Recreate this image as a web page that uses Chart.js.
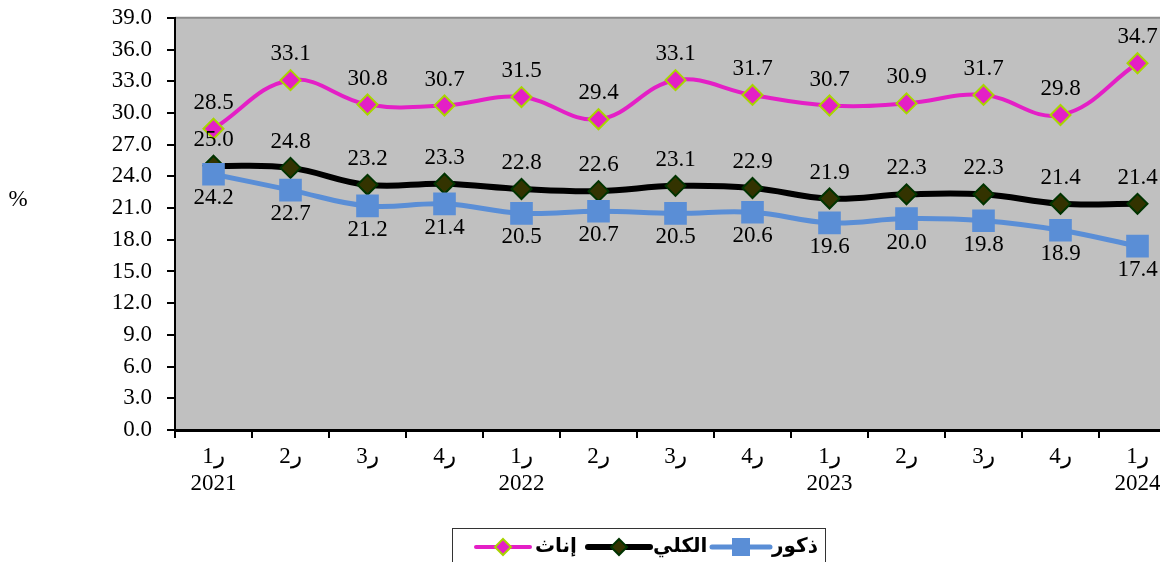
<!DOCTYPE html>
<html>
<head>
<meta charset="utf-8">
<script src="https://cdn.jsdelivr.net/npm/chart.js@4"></script>
<style>
  html, body { margin: 0; padding: 0; background: #fff; overflow: hidden; }
  #wrap { width: 1200px; height: 573px; position: relative; margin-top: -11px; }
</style>
</head>
<body>
<div id="wrap"><canvas id="rateChart"></canvas></div>
<script>
// quarters (ر = ربع) and the year under the first quarter of each year
const quarterLabels = ["1ر", "2ر", "3ر", "4ر", "1ر", "2ر", "3ر", "4ر", "1ر", "2ر", "3ر", "4ر", "1ر"];
const yearLabels = ["2021", "", "", "", "2022", "", "", "", "2023", "", "", "", "2024"];

const females = [28.5, 33.1, 30.8, 30.7, 31.5, 29.4, 33.1, 31.7, 30.7, 30.9, 31.7, 29.8, 34.7];
const total = [25.0, 24.8, 23.2, 23.3, 22.8, 22.6, 23.1, 22.9, 21.9, 22.3, 22.3, 21.4, 21.4];
const males = [24.2, 22.7, 21.2, 21.4, 20.5, 20.7, 20.5, 20.6, 19.6, 20.0, 19.8, 18.9, 17.4];

const yTicks = { min: 0, max: 39, step: 3 };

const serif = "'Liberation Serif', 'Times New Roman', serif";
const shiftY = 11; // canvas is pulled up by this much

// gray plot background + top border line
const plotBg = {
    id: "plotBg",
    beforeDraw(chart) {
        const { ctx, chartArea: a } = chart;
        ctx.save();
        ctx.fillStyle = "#c0c0c0";
        ctx.fillRect(a.left, a.top, a.right - a.left, a.bottom - a.top);
        ctx.strokeStyle = "#8c8c8c";
        ctx.lineWidth = 2;
        ctx.beginPath();
        ctx.moveTo(a.left, a.top);
        ctx.lineTo(a.right, a.top);
        ctx.stroke();
        ctx.restore();
    }
};

// value labels: above for females and total, below for males
const valueLabels = {
    id: "valueLabels",
    afterDatasetsDraw(chart) {
        const ctx = chart.ctx;
        ctx.save();
        ctx.font = "23px " + serif;
        ctx.fillStyle = "#000";
        ctx.textAlign = "center";
        ctx.textBaseline = "middle";
        chart.data.datasets.forEach((ds, i) => {
            const meta = chart.getDatasetMeta(i);
            meta.data.forEach((pt, j) => {
                ctx.fillText(ds.data[j].toFixed(1), pt.x, pt.y + ds.labelOffset);
            });
        });
        // unit on the left
        ctx.fillText("%", 18, 200 + shiftY);
        ctx.restore();
    }
};

// hand drawn legend in a box, like the original
const boxLegend = {
    id: "boxLegend",
    afterDraw(chart) {
        const ctx = chart.ctx;
        ctx.save();
        ctx.strokeStyle = "#333";
        ctx.lineWidth = 1;
        ctx.strokeRect(452.5, 528.5 + shiftY, 373, 40);

        const items = [
            { text: "إناث", x0: 476, x1: 530, tx: 535, ds: 2 },
            { text: "الكلي", x0: 588, x1: 650, tx: 653, ds: 1 },
            { text: "ذكور", x0: 712, x1: 770, tx: 772, ds: 0 }
        ];
        const y = 547 + shiftY;
        items.forEach(it => {
            const ds = chart.data.datasets[it.ds];
            ctx.strokeStyle = ds.borderColor;
            ctx.lineWidth = ds.borderWidth;
            ctx.lineCap = "round";
            ctx.beginPath();
            ctx.moveTo(it.x0, y);
            ctx.lineTo(it.x1, y);
            ctx.stroke();
            const cx = (it.x0 + it.x1) / 2;
            ctx.fillStyle = ds.pointBackgroundColor;
            ctx.strokeStyle = ds.pointBorderColor;
            ctx.lineWidth = ds.pointBorderWidth;
            if (ds.pointStyle === "rect") {
                ctx.fillRect(cx - 9, y - 9, 18, 18);
            } else {
                ctx.beginPath();
                ctx.moveTo(cx, y - 8);
                ctx.lineTo(cx + 8, y);
                ctx.lineTo(cx, y + 8);
                ctx.lineTo(cx - 8, y);
                ctx.closePath();
                ctx.fill();
                ctx.stroke();
            }
            ctx.fillStyle = "#000";
            ctx.font = "bold 20px 'DejaVu Sans', sans-serif";
            ctx.textAlign = "left";
            ctx.textBaseline = "middle";
            ctx.fillText(it.text, it.tx, y);
        });
        ctx.restore();
    }
};

new Chart("rateChart", {
    type: "line",
    data: {
        labels: quarterLabels.map((q, i) => yearLabels[i] ? [q, yearLabels[i]] : q),
        datasets: [
            {
                label: "ذكور",
                data: males,
                borderColor: "#5a8ed6",
                borderWidth: 5,
                tension: 0.4,
                pointStyle: "rect",
                pointRadius: 16,
                pointBackgroundColor: "#5a8ed6",
                pointBorderColor: "#5a8ed6",
                pointBorderWidth: 0,
                labelOffset: 24
            },
            {
                label: "الكلي",
                data: total,
                borderColor: "#000000",
                borderWidth: 6,
                tension: 0.4,
                pointStyle: "rectRot",
                pointRadius: 10,
                pointBackgroundColor: "#333300",
                pointBorderColor: "#003300",
                pointBorderWidth: 2,
                labelOffset: -26
            },
            {
                label: "إناث",
                data: females,
                borderColor: "#e41fc6",
                borderWidth: 4,
                tension: 0.4,
                pointStyle: "rectRot",
                pointRadius: 10,
                pointBackgroundColor: "#e41fc6",
                pointBorderColor: "#a8d400",
                pointBorderWidth: 2,
                labelOffset: -26
            }
        ]
    },
    options: {
        responsive: true,
        maintainAspectRatio: false,
        animation: false,
        layout: { padding: { left: 0, top: 6, right: 24, bottom: 0 } },
        plugins: {
            legend: { display: false },
            tooltip: { enabled: false }
        },
        scales: {
            x: {
                offset: true,
                afterFit(scale) { scale.height = 132; },
                grid: {
                    offset: true,
                    drawOnChartArea: false,
                    drawTicks: true,
                    tickLength: 8,
                    color: "#000",
                    lineWidth: 2
                },
                border: { display: true, color: "#000", width: 3 },
                ticks: {
                    color: "#000",
                    font: { family: serif, size: 23 },
                    padding: 5,
                    maxRotation: 0,
                    autoSkip: false
                }
            },
            y: {
                min: yTicks.min,
                max: yTicks.max,
                afterFit(scale) { scale.width = 175; },
                grid: {
                    drawOnChartArea: false,
                    drawTicks: true,
                    tickLength: 8,
                    color: "#000",
                    lineWidth: 2
                },
                border: { display: true, color: "#000", width: 2 },
                ticks: {
                    stepSize: yTicks.step,
                    color: "#000",
                    font: { family: serif, size: 23 },
                    padding: 15,
                    callback: v => v.toFixed(1)
                }
            }
        }
    },
    plugins: [plotBg, valueLabels, boxLegend]
});
</script>
</body>
</html>
